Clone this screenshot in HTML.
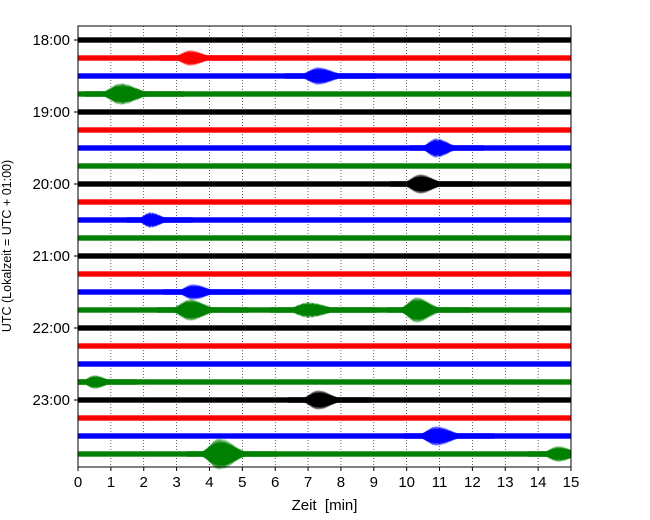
<!DOCTYPE html>
<html><head><meta charset="utf-8"><style>
body{margin:0;background:#fff;}
svg{display:block;font-family:"Liberation Sans",sans-serif;}
text{white-space:pre;}
</style></head><body>
<svg id="c" width="650" height="520"></svg>
<script>
const traceLabels=["18:00","","","","19:00","","","","20:00","","","","21:00","","","","22:00","","","","23:00","","",""];
const traceColors=["#000","red","blue","green"];
const noiseAmp=[2.7,2.7,2.7,2.7,2.7,2.7,2.7,2.7,2.7,2.7,2.7,2.7,2.7,2.7,2.7,2.7,2.7,2.7,2.7,2.7,2.7,2.7,2.7,2.7];
// events: traceIndex, minute, amplitude(px), duration(min)
const eventTrace=[1,2,3,6,8,10,14,15,15,15,19,20,22,23,23];
const eventTime=[3.4,7.3,1.3,10.9,10.4,2.2,3.5,3.4,7.0,10.3,0.5,7.3,10.9,4.3,14.6];
const eventAmp=[8,9,11,10,10,8,8,11,8,13,7,10,10,16,8];
const eventDur=[1.0,1.1,1.2,0.9,1.0,0.8,1.0,1.1,1.3,1.0,0.8,1.0,1.1,1.1,1.0];
const xTicks=[0,1,2,3,4,5,6,7,8,9,10,11,12,13,14,15];

const NS="http://www.w3.org/2000/svg";
const svg=document.getElementById('c');
const X0=78,X1=571,Y0=26,Y1=467;
const xs=m=>X0+(m/15)*(X1-X0);
const ys=i=>40+i*18;
function mk(t,a,p){const e=document.createElementNS(NS,t);for(const k in a)e.setAttribute(k,a[k]);(p||svg).appendChild(e);return e;}

xTicks.forEach(t=>{if(t>0&&t<15){const g=mk('line',{x1:xs(t),x2:xs(t),y1:Y0,y2:Y1,stroke:'#000','stroke-width':0.6,'stroke-dasharray':'1,2'});

}});

traceLabels.forEach((l,i)=>{
  const r=mk('rect',{x:X0,y:ys(i)-noiseAmp[i],width:X1-X0,height:2*noiseAmp[i],fill:traceColors[i%4]});
  
  
});
eventTrace.forEach((ti,k)=>{
  const c=ys(ti),t0=eventTime[k],a=eventAmp[k],d=eventDur[k];
  const top=[],bot=[];
  for(let s=-1;s<=1.8;s+=0.008){
    const m=t0+s*d*0.9;
    if(m<0||m>15)continue;
    const env=s<0?Math.exp(-Math.pow(s/0.4,2)):Math.exp(-Math.pow(s/0.6,2));
    const h=Math.max(noiseAmp[ti],a*env*(0.65+0.35*Math.abs(Math.sin(s*97))));
    top.push(xs(m).toFixed(1)+','+(c-h).toFixed(1));
    bot.unshift(xs(m).toFixed(1)+','+(c+h).toFixed(1));
  }
  const p=mk('polygon',{points:top.concat(bot).join(' '),fill:traceColors[ti%4]});
  
  
});

const f=mk('rect',{x:X0,y:Y0,width:X1-X0,height:Y1-Y0,fill:'none',stroke:'#000','stroke-width':1});



xTicks.forEach(t=>{
  mk('line',{x1:xs(t),x2:xs(t),y1:Y1,y2:Y1+4,stroke:'#000'});
  const tx=mk('text',{x:xs(t),y:Y1+20,'text-anchor':'middle','font-size':15});
  tx.textContent=t;
  
  
});
traceLabels.forEach((l,i)=>{
  if(!l)return;
  mk('line',{x1:X0-4,x2:X0,y1:ys(i),y2:ys(i),stroke:'#000'});
  const tx=mk('text',{x:X0-8,y:ys(i)+5,'text-anchor':'end','font-size':15});
  tx.textContent=l;
  
  
});
const xl=mk('text',{x:(X0+X1)/2,y:510,'text-anchor':'middle','font-size':15});
xl.textContent='Zeit  [min]';


const yl=mk('text',{x:0,y:0,'text-anchor':'middle','font-size':12.5,transform:'translate(11,246) rotate(-90)'});
yl.textContent='UTC (Lokalzeit = UTC + 01:00)';


</script>
</body></html>
